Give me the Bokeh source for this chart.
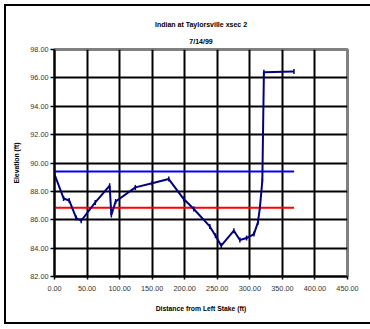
import math
from bokeh.plotting import figure
from bokeh.models import Range1d, Title, SingleIntervalTicker, NumeralTickFormatter
from bokeh.embed import file_html
from bokeh.resources import INLINE

# Data
distance_ft = [0, 14, 22.6, 33.4, 41, 62.6, 84.7, 87.3, 93.9, 124.2, 149.9, 175.5,
               198.5, 213.9, 238.5, 247.3, 256.1, 275.5, 284.7, 295, 306.3, 312.4,
               315.5, 319.2, 321.6, 367.8]
elevation_ft = [89.2, 87.5, 87.36, 86.12, 85.93, 87.22, 88.4, 86.33, 87.29, 88.28, 88.57, 88.87,
                87.46, 86.76, 85.53, 84.87, 84.17, 85.23, 84.57, 84.71, 84.99, 85.81,
                86.87, 88.75, 96.4, 96.45]
blue_line_x = [0, 368]
blue_line_y = [89.4, 89.4]
red_line_x = [0, 368]
red_line_y = [86.85, 86.85]

title1 = "Indian at Taylorsville xsec 2"
title2 = "7/14/99"
xlabel = "Distance from Left Stake (ft)"
ylabel = "Elevation (ft)"

FONT = "Liberation Sans"

p = figure(frame_width=293, frame_height=227,
           min_border_left=48, min_border_right=23, min_border_top=43, min_border_bottom=46,
           x_range=Range1d(0, 450), y_range=Range1d(82, 98),
           output_backend="svg", toolbar_location=None)
p.styles = {"border-left": "2px solid black", "border-top": "2px solid black",
            "border-bottom": "2px solid black",
            "margin-left": "4px", "margin-top": "4px"}

p.background_fill_color = "white"
p.border_fill_color = "white"
p.outline_line_color = "#808080"
p.outline_line_width = 3

p.xaxis.ticker = SingleIntervalTicker(interval=50)
p.yaxis.ticker = SingleIntervalTicker(interval=2)
p.xaxis.formatter = NumeralTickFormatter(format="0.00")
p.yaxis.formatter = NumeralTickFormatter(format="0.00")

for ax in (p.xaxis[0], p.yaxis[0]):
    ax.axis_line_color = "black"
    ax.axis_line_width = 2
    ax.major_tick_line_color = "black"
    ax.major_tick_line_width = 1.5
    ax.major_tick_in = 0
    ax.minor_tick_line_color = None
    ax.major_label_text_font = FONT
    ax.major_label_text_font_size = "7.3px"
    ax.major_label_text_color = "#333333"
    ax.axis_label_text_font = FONT
    ax.axis_label_text_font_size = "6.8px"
    ax.axis_label_text_font_style = "bold"
    ax.axis_label_text_color = "black"
p.yaxis.major_tick_out = 4
p.yaxis.major_label_standoff = 2
p.xaxis.major_tick_out = 3
p.xaxis.major_label_standoff = 5
p.xaxis.axis_label = xlabel
p.yaxis.axis_label = ylabel
p.xaxis.axis_label_standoff = 11
p.yaxis.axis_label_standoff = 7

p.grid.grid_line_color = "black"
p.grid.grid_line_width = 2

p.line(blue_line_x, blue_line_y, line_color="#0000FF", line_width=2)
p.line(red_line_x, red_line_y, line_color="#FF0000", line_width=2)
p.line(distance_ft, elevation_ft, line_color="#000080", line_width=2)
p.scatter(distance_ft, elevation_ft, marker="dash", angle=math.pi / 2, size=5,
          line_color="#000080", line_width=1.5)

# Titles: first added sits closest to the frame
p.add_layout(Title(text=title2, align="center", text_font=FONT, text_font_size="7px",
                   text_font_style="bold", text_color="black", standoff=9, offset=-10), "above")
p.add_layout(Title(text=title1, align="center", text_font=FONT, text_font_size="7px",
                   text_font_style="bold", text_color="black", standoff=7, offset=-10), "above")

open("out.html", "w").write(file_html(p, INLINE))
